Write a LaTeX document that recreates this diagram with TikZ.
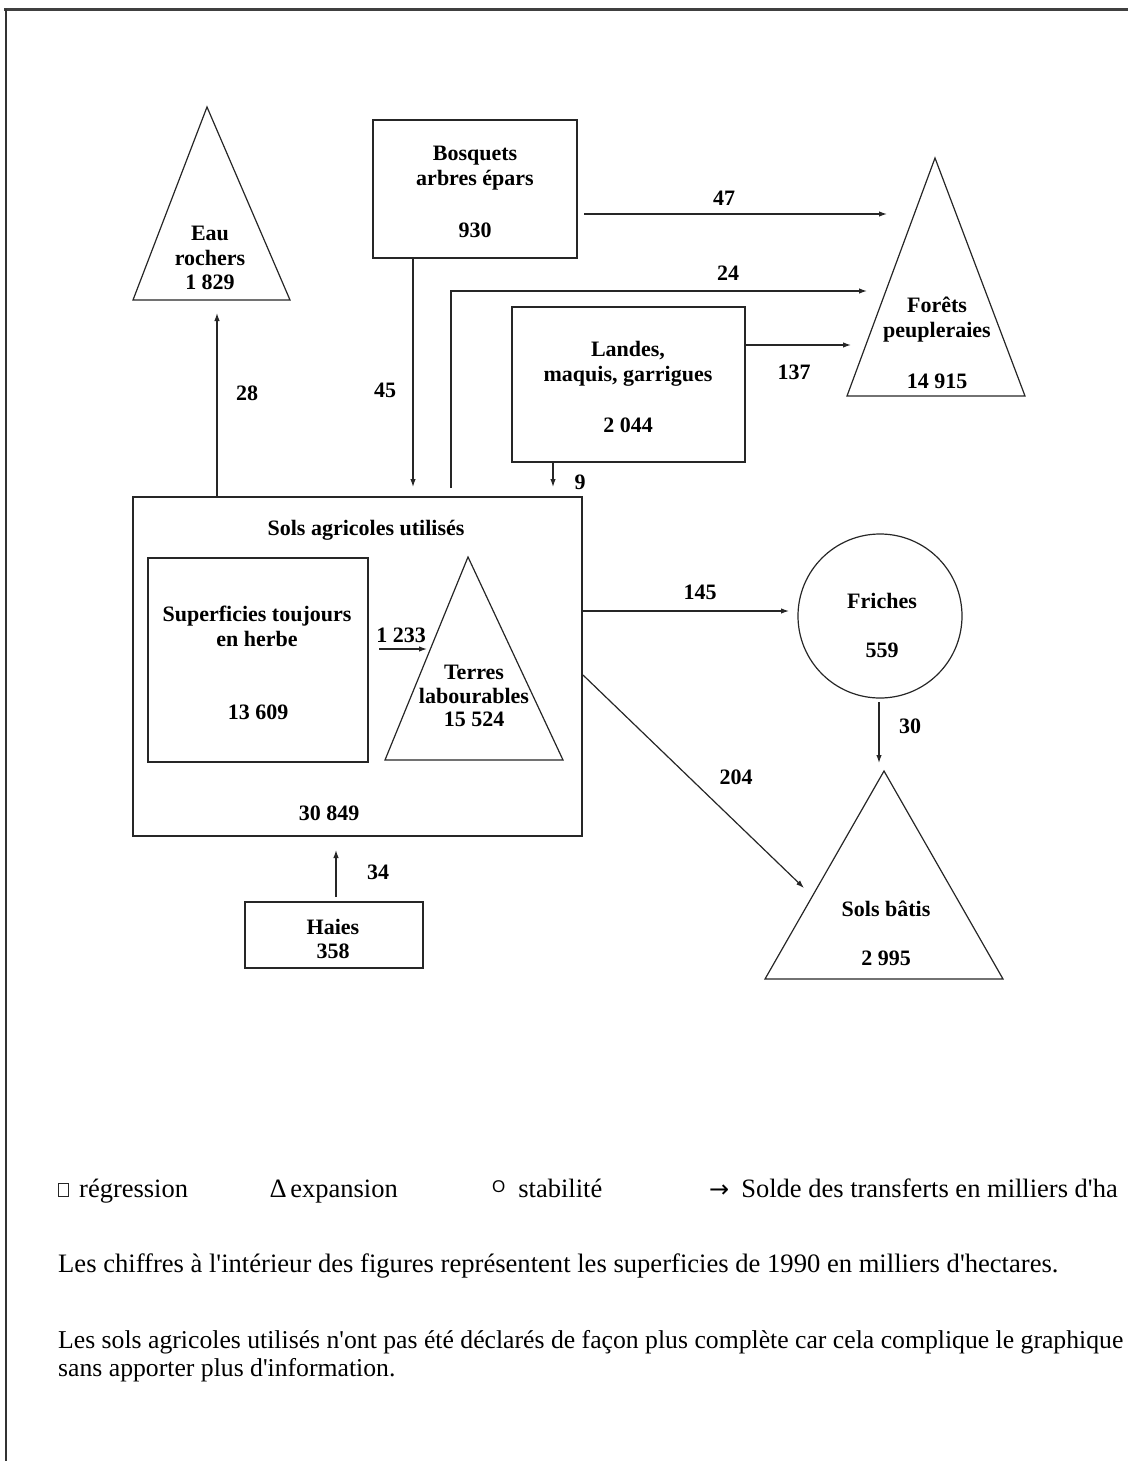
\documentclass[tikz,border=0pt]{standalone}
\usepackage{fontspec}
\setmainfont{Liberation Serif}
\newfontfamily\symfont{DejaVu Sans}
\newfontfamily\osans{Liberation Sans}
\usetikzlibrary{arrows.meta,calc}
\begin{document}
\begin{tikzpicture}[x=1pt,y=-1pt,
  ln/.style={line width=1.2pt, draw=black!85},
  arr/.style={ln,-{Latex[length=8pt,width=5.5pt]}},
  rbox/.style={ln, rectangle, inner sep=0pt, outer sep=0pt},
  lbl/.style={font=\fontsize{22}{25}\selectfont\bfseries, align=center, inner sep=0pt},
  leg/.style={font=\fontsize{26.5}{30}\selectfont, anchor=base west, inner sep=0pt},
  para/.style={anchor=west, inner sep=0pt},
]
\useasboundingbox (0,0) rectangle (1128,1461);
% frame
\draw[line width=3pt, draw=black!75] (4,10) -- (1128,10);
\draw[line width=2.5pt, draw=black!80] (6,9) -- (6,1461);

% boxes
\node[rbox, minimum width=204pt, minimum height=138pt] (bosq) at (475,189) {};
\node[rbox, minimum width=233pt, minimum height=155pt] (landes) at (628.5,384.5) {};
\node[rbox, minimum width=449pt, minimum height=339pt] (sols) at (357.5,666.5) {};
\node[rbox, minimum width=220pt, minimum height=204pt] (sth) at (258,660) {};
\node[rbox, minimum width=178pt, minimum height=66pt] (haies) at (334,935) {};
\node[ln, circle, minimum size=164pt, inner sep=0pt] (friches) at (880,616) {};

% triangles
\coordinate (eauA) at (207,107); \coordinate (eauL) at (133,300); \coordinate (eauR) at (290,300);
\draw[ln] (eauA) -- (eauR) -- (eauL) -- cycle;
\coordinate (forA) at (935,158); \coordinate (forL) at (847,396); \coordinate (forR) at (1025,396);
\draw[ln] (forA) -- (forR) -- (forL) -- cycle;
\coordinate (terA) at (468,557); \coordinate (terL) at (385,760); \coordinate (terR) at (563,760);
\draw[ln] (terA) -- (terR) -- (terL) -- cycle;
\coordinate (batA) at (884,771); \coordinate (batL) at (765,979); \coordinate (batR) at (1003,979);
\draw[ln] (batA) -- (batR) -- (batL) -- cycle;

% texts
\node[lbl, font=\fontsize{22}{24.5}\selectfont\bfseries] (teau) at (210,258) {Eau\\rochers\\1 829};
\node[lbl] (tbosq) at (475,168) {Bosquets\\arbres épars};
\node[lbl] (nbosq) at (475,230) {930};
\node[lbl] (tland) at (628,364) {Landes,\\maquis, garrigues};
\node[lbl] (nland) at (628,425) {2 044};
\node[lbl] (tfor) at (937,320) {Forêts\\peupleraies};
\node[lbl] (nfor) at (937,381) {14 915};
\node[lbl] (tsols) at (366,530) {Sols agricoles utilisés};
\node[lbl] (tsth) at (257,626) {Superficies toujours\\en herbe};
\node[lbl] (nsth) at (258,712) {13 609};
\node[lbl, font=\fontsize{22}{23.5}\selectfont\bfseries] (tter) at (474,696) {Terres\\labourables\\15 524};
\node[lbl] (nsols) at (329,813) {30 849};
\node[lbl] (tfri) at (882,601) {Friches};
\node[lbl] (nfri) at (882,650) {559};
\node[lbl] (tbat) at (886,909) {Sols bâtis};
\node[lbl] (nbat) at (886,958) {2 995};
\node[lbl, font=\fontsize{22}{24}\selectfont\bfseries] (thaies) at (333,939) {Haies\\358};

% flow labels
\node[lbl] (l47) at (724,198) {47};
\node[lbl] (l24) at (728,273) {24};
\node[lbl] (l137) at (794,372) {137};
\node[lbl] (l28) at (247,393) {28};
\node[lbl] (l45) at (385,390) {45};
\node[lbl] (l9) at (580,482) {9};
\node[lbl] (l1233) at (401,635) {1 233};
\node[lbl] (l145) at (700,592) {145};
\node[lbl] (l30) at (910,726) {30};
\node[lbl] (l204) at (736,777) {204};
\node[lbl] (l34) at (378,872) {34};

% connectors
\coordinate (a28s) at (217,497); \coordinate (a28e) at (217,313);
\draw[arr] (a28s) -- (a28e);
\coordinate (a45s) at (413,258); \coordinate (a45e) at (413,487);
\draw[arr] (a45s) -- (a45e);
\coordinate (a24s) at (451,488); \coordinate (a24c) at (451,291); \coordinate (a24e) at (867,291);
\draw[arr] (a24s) -- (a24c) -- (a24e);
\coordinate (a47s) at (584,214); \coordinate (a47e) at (887,214);
\draw[arr] (a47s) -- (a47e);
\coordinate (a137s) at (745,345); \coordinate (a137e) at (851,345);
\draw[arr] (a137s) -- (a137e);
\coordinate (a9s) at (553,462); \coordinate (a9e) at (553,487);
\draw[arr] (a9s) -- (a9e);
\coordinate (a1233s) at (379,649); \coordinate (a1233e) at (427,649);
\draw[arr] (a1233s) -- (a1233e);
\coordinate (a145s) at (583,611); \coordinate (a145e) at (789,611);
\draw[arr] (a145s) -- (a145e);
\coordinate (a204s) at (583,675); \coordinate (a204e) at (804,888);
\draw[arr] (a204s) -- (a204e);
\coordinate (a30s) at (879,702); \coordinate (a30e) at (879,763);
\draw[arr] (a30s) -- (a30e);
\coordinate (a34s) at (336,897); \coordinate (a34e) at (336,850);
\draw[arr] (a34s) -- (a34e);

% legend
\node[draw=black!85, line width=0.9pt, minimum width=10pt, minimum height=13pt, inner sep=0pt] (s1) at (63.5,1189.5) {};
\node[leg] (g1) at (79,1197) {régression};
\node[leg] (g2) at (270,1197) {∆\hspace{4pt}expansion};
\node[leg] (g3) at (492,1197) {{\osans\fontsize{17}{20}\selectfont\raisebox{5pt}{O}}\hspace{13pt}stabilité};
\node[leg] (g4) at (709,1197) {{\symfont\fontsize{24}{26}\selectfont →}\hspace{12pt}Solde des transferts en milliers d\textquotesingle ha};
\node[para, font=\fontsize{26.6}{30}\selectfont] (p1) at (58,1266) {Les chiffres à l\textquotesingle intérieur des figures représentent les superficies de 1990 en milliers d\textquotesingle hectares.};
\node[para, font=\fontsize{25.7}{30}\selectfont] (p2) at (58,1342) {Les sols agricoles utilisés n\textquotesingle ont pas été déclarés de façon plus complète car cela complique le graphique};
\node[para, font=\fontsize{25.7}{30}\selectfont] (p3) at (58,1370) {sans apporter plus d\textquotesingle information.};
\end{tikzpicture}
\end{document}
